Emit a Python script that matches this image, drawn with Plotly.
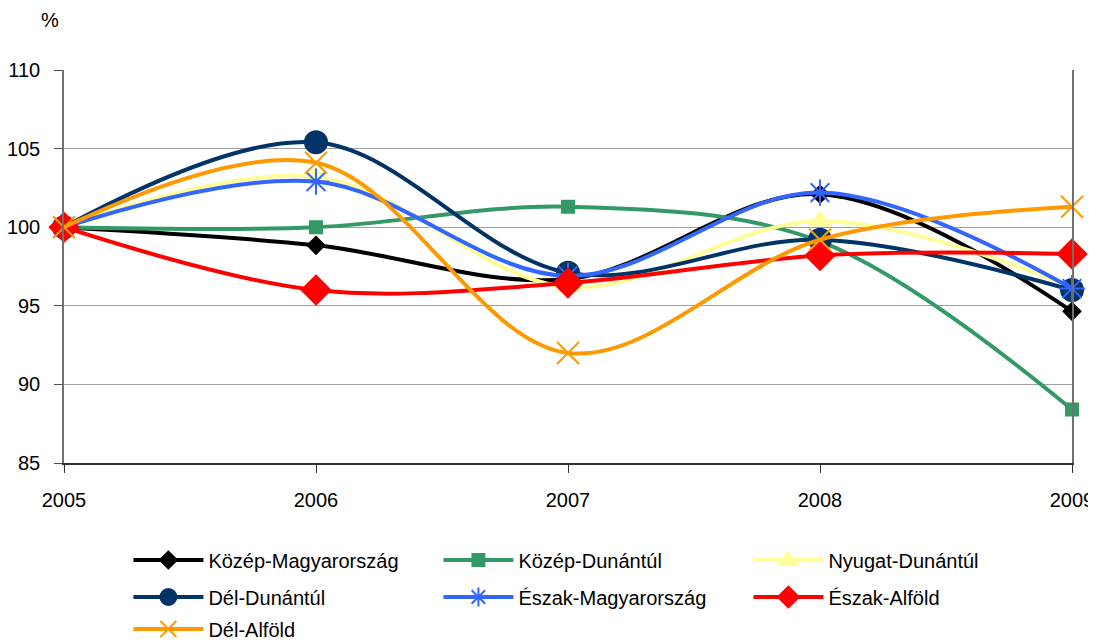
import plotly.graph_objects as go

years = [2005, 2006, 2007, 2008, 2009]

kozep_magyarorszag = [100.0, 98.85, 96.7, 102.1, 94.65]
kozep_dunantul = [100.0, 100.0, 101.3, 99.1, 88.4]
nyugat_dunantul = [100.0, 103.2, 96.2, 100.4, 96.2]
del_dunantul = [100.0, 105.4, 97.1, 99.2, 96.0]
eszak_magyarorszag = [100.0, 102.9, 96.9, 102.2, 96.1]
eszak_alfold = [100.0, 96.0, 96.45, 98.2, 98.3]
del_alfold = [100.0, 104.1, 92.0, 99.2, 101.3]

y_ticks = [85, 90, 95, 100, 105, 110]

series = [
    ("Közép-Magyarország", kozep_magyarorszag, "#000000", "diamond", 13, "legend"),
    ("Közép-Dunántúl", kozep_dunantul, "#339966", "square", 12, "legend"),
    ("Nyugat-Dunántúl", nyugat_dunantul, "#FFFF99", "triangle-up", 18, "legend"),
    ("Dél-Dunántúl", del_dunantul, "#003366", "circle", 22, "legend2"),
    ("Észak-Magyarország", eszak_magyarorszag, "#3366FF", "asterisk-open", 22, "legend2"),
    ("Észak-Alföld", eszak_alfold, "#FF0000", "diamond", 22, "legend2"),
    ("Dél-Alföld", del_alfold, "#FF9900", "x-thin-open", 22, "legend3"),
]

fig = go.Figure()
for name, vals, color, sym, size, leg in series:
    fig.add_trace(go.Scatter(
        x=years, y=vals, name=name, mode="lines+markers",
        line=dict(color=color, width=4, shape="spline", smoothing=1.0),
        marker=dict(symbol=sym, size=size, color=color,
                    line=dict(color=color, width=2)),
        cliponaxis=False, legend=leg,
    ))

# page has an 8px body margin: figure drawn 8px right/down
OFF = 8
W, H = 1096 - OFF, 643 - OFF

def leg(ycenter_page):
    return dict(
        orientation="h", x=0.0639, xanchor="left",
        yref="container", y=1 - (ycenter_page - OFF) / H, yanchor="middle",
        entrywidth=225, entrywidthmode="pixels", itemwidth=70,
        font=dict(size=20), bgcolor="rgba(0,0,0,0)",
    )

fig.update_layout(
    width=W, height=H,
    margin=dict(l=64 - OFF, r=24, t=70 - OFF, b=180, autoexpand=False),
    paper_bgcolor="white", plot_bgcolor="white",
    font=dict(family="Liberation Sans, Arial, sans-serif", size=20, color="#000000"),
    showlegend=True,
    legend=leg(560),
    legend2=leg(597),
    legend3=leg(629),
)
fig.add_annotation(text="%", xref="paper", yref="paper", x=-0.014, y=1.127,
                   xanchor="center", yanchor="middle", showarrow=False,
                   font=dict(size=20))

fig.update_xaxes(
    range=[2005, 2009], tickvals=years, ticktext=[str(y) for y in years],
    showgrid=False, zeroline=False,
    showline=True, linecolor="#303030", linewidth=1.5,
    ticks="outside", ticklen=8, tickcolor="#303030",
    ticklabelstandoff=10, automargin=False,
)
fig.update_yaxes(
    range=[85, 110], tickvals=y_ticks,
    showgrid=True, gridcolor="#A0A0A0", gridwidth=1, zeroline=False,
    showline=True, linecolor="#707070", linewidth=1.5, mirror=True,
    ticks="outside", ticklen=8, tickcolor="#505050",
    ticklabelstandoff=10, automargin=False,
)

fig.write_html("out.html")
